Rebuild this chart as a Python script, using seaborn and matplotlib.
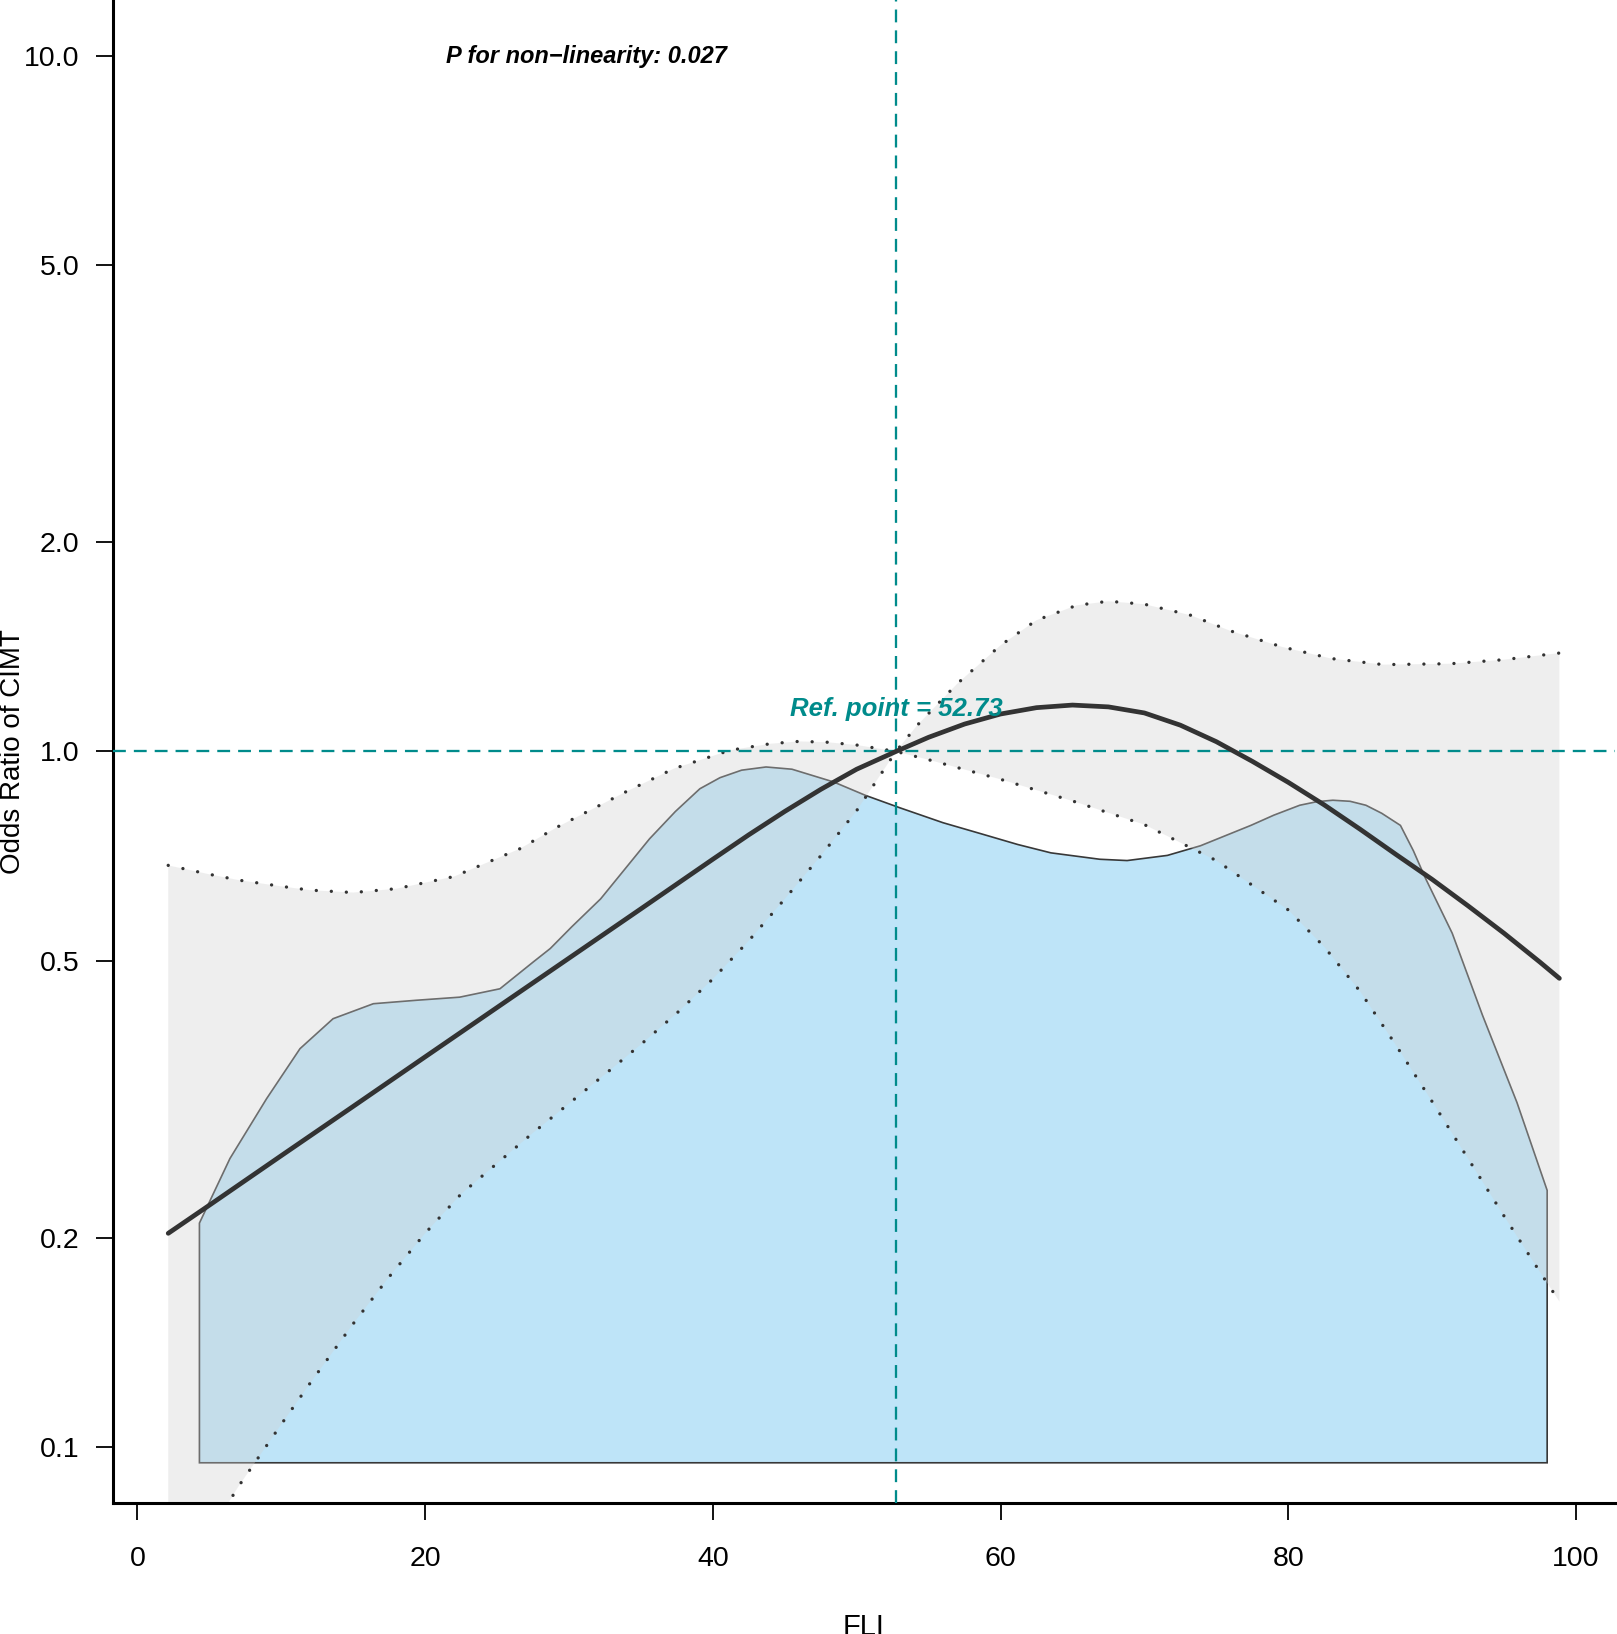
import numpy as np
import pandas as pd
import matplotlib
matplotlib.use("Agg")
import matplotlib.pyplot as plt
import seaborn as sns

# restricted cubic spline: odds ratio of CIMT vs FLI
or_x = [2.14, 5, 10, 15, 20, 25, 30, 35, 40, 42.5, 45, 47.5, 50, 52.73, 55, 57.5,
        60, 62.5, 65, 67.5, 70, 72.5, 75, 77.5, 80, 82.5, 85, 87.5, 90, 92.5,
        95, 97.5, 98.85]
or_y = [0.203, 0.2228, 0.2625, 0.309, 0.364, 0.4286, 0.5046, 0.5941, 0.700, 0.759,
        0.820, 0.882, 0.943, 1.0, 1.048, 1.095, 1.132, 1.156, 1.166, 1.159, 1.136,
        1.091, 1.033, 0.968, 0.903, 0.838, 0.773, 0.711, 0.655, 0.600, 0.548,
        0.498, 0.472]

upper_x = [2.14, 5, 7.1, 10, 12, 15, 18, 22, 26.6, 29.2, 31.9, 34, 37.3, 41.2, 44,
           46, 48, 50.1, 52.73, 54.2, 57, 60, 62.5, 65.3, 67.5, 70, 73.2, 76,
           79.6, 83, 86.6, 91.3, 95, 98.85]
upper_y = [0.686, 0.666, 0.653, 0.640, 0.632, 0.627, 0.635, 0.661, 0.725, 0.779,
           0.832, 0.876, 0.945, 1.004, 1.026, 1.034, 1.031, 1.021, 1.0, 1.09,
           1.252, 1.421, 1.544, 1.622, 1.644, 1.628, 1.570, 1.49, 1.413, 1.36,
           1.333, 1.337, 1.355, 1.385]

lower_x = [2.14, 5, 7.0, 10, 12, 15, 17.5, 20, 22.5, 25, 27.5, 30, 32.5, 35, 37.5,
           40, 42.5, 45, 47.5, 50, 52.73, 55, 60, 65, 70, 75, 80, 82.5, 85, 87.5,
           90, 92.5, 95, 97.5, 98.85]
lower_y = [0.061, 0.075, 0.0877, 0.1079, 0.1236, 0.1505, 0.1758, 0.2030, 0.2312,
           0.2559, 0.2831, 0.3119, 0.3436, 0.3793, 0.4207, 0.4710, 0.5346, 0.6138,
           0.7079, 0.8222, 1.0, 0.973, 0.912, 0.849, 0.785, 0.697, 0.592, 0.524,
           0.452, 0.378, 0.314, 0.260, 0.215, 0.1786, 0.162]

# FLI distribution (density polygon, scaled onto the OR axis)
dens_x = [4.31, 6.43, 8.98, 11.3, 13.6, 16.4, 19.4, 22.4, 25.2, 27.5, 28.7, 30.2,
          32.2, 35.6, 37.4, 39.1, 40.5, 42.0, 43.7, 45.5, 48.4, 50.6, 53.0, 56.0,
          58.8, 61.2, 63.5, 66.9, 68.8, 71.6, 73.9, 77.4, 79.0, 80.8, 82.0, 83.1,
          84.3, 85.4, 86.5, 87.8, 88.7, 89.5, 91.4, 93.5, 95.9, 98.0]
dens_y = [0.21, 0.26, 0.317, 0.374, 0.413, 0.434, 0.439, 0.4435, 0.456, 0.498,
          0.521, 0.56, 0.614, 0.749, 0.82, 0.884, 0.917, 0.940, 0.950, 0.943,
          0.904, 0.865, 0.83, 0.79, 0.76, 0.735, 0.715, 0.70, 0.697, 0.709, 0.732,
          0.783, 0.81, 0.837, 0.847, 0.851, 0.848, 0.837, 0.815, 0.783, 0.72,
          0.66, 0.548, 0.418, 0.313, 0.234]
dens_base = 0.095

ref_point = 52.73
p_text = "P for non\u2212linearity: 0.027"
y_ticks = [0.1, 0.2, 0.5, 1.0, 2.0, 5.0, 10.0]
x_ticks = [0, 20, 40, 60, 80, 100]

sns.set_style("ticks")
plt.rcParams['font.family'] = ['Liberation Sans', 'DejaVu Sans']

teal = "#008B8B"
dark = "#333333"

fig = plt.figure(figsize=(16.17, 16.34), dpi=100)
ax = fig.add_axes([0.0696, 0.0802, 0.9292, 0.9198])
ax.set_yscale("log")

# density polygon
poly_x = [dens_x[0]] + dens_x + [dens_x[-1]]
poly_y = [dens_base] + dens_y + [dens_base]
ax.fill(poly_x, poly_y, facecolor="#BEE4F8", edgecolor="#383838", linewidth=1.2, zorder=1)

# confidence band
band_x = np.concatenate([upper_x, lower_x[::-1]])
band_y = np.concatenate([upper_y, lower_y[::-1]])
ax.fill(band_x, band_y, facecolor="#D1D1D1", alpha=0.35, edgecolor="none", zorder=2)

sns.lineplot(x="x", y="y", data=pd.DataFrame({"x": upper_x, "y": upper_y}), ax=ax, color=dark,
             linewidth=2.4, sort=False, estimator=None, zorder=3)
sns.lineplot(x="x", y="y", data=pd.DataFrame({"x": lower_x, "y": lower_y}), ax=ax, color=dark,
             linewidth=2.4, sort=False, estimator=None, zorder=3)
for ln in ax.get_lines()[-2:]:
    ln.set_linestyle((0, (0.01, 4.5)))
    ln.set_dash_capstyle("round")

# reference lines
ax.axhline(1.0, color=teal, linewidth=1.65, linestyle=(0, (5.6, 3.5)), zorder=4)
ax.axvline(ref_point, color=teal, linewidth=1.65, linestyle=(0, (5.6, 3.5)), zorder=4)

sns.lineplot(x="x", y="y", data=pd.DataFrame({"x": or_x, "y": or_y}), ax=ax, color=dark,
             linewidth=3.4, sort=False, estimator=None, zorder=5)
ax.get_lines()[-1].set_solid_capstyle("round")
ax.get_lines()[-1].set_solid_joinstyle("round")

ax.text(ref_point, 1.125, f"Ref. point = {ref_point:.2f}", color=teal, fontsize=18.5,
        fontweight="bold", fontstyle="italic", ha="center", va="baseline", zorder=6)
ax.text(31.2, 9.76, p_text, color="black", fontsize=17, fontweight="bold",
        fontstyle="italic", ha="center", va="baseline", zorder=6)

ax.set_xlim(-1.73, 102.72)
ax.set_ylim(10 ** -1.08, 10 ** 1.08)
ax.set_xticks(x_ticks)
ax.set_xticklabels([str(t) for t in x_ticks])
ax.set_yticks(y_ticks)
ax.set_yticklabels([f"{t:.1f}" for t in y_ticks])
ax.yaxis.set_minor_locator(matplotlib.ticker.NullLocator())
ax.tick_params(axis="both", direction="out", length=12, width=1.3, color="black",
               labelsize=20.5, labelcolor="black")
ax.tick_params(axis="x", pad=19)
ax.tick_params(axis="y", pad=12)

for side in ["top", "right"]:
    ax.spines[side].set_visible(False)
for side in ["left", "bottom"]:
    ax.spines[side].set_linewidth(2.2)
    ax.spines[side].set_color("black")

ax.set_xlabel("FLI", fontsize=21, color="black")
ax.xaxis.set_label_coords(0.5, -0.0732)
ax.set_ylabel("Odds Ratio of CIMT", fontsize=20, color="black")
ax.yaxis.label.set_verticalalignment("center")
ax.yaxis.set_label_coords(-0.0660, 0.5)

fig.savefig("out.png", dpi=100)
